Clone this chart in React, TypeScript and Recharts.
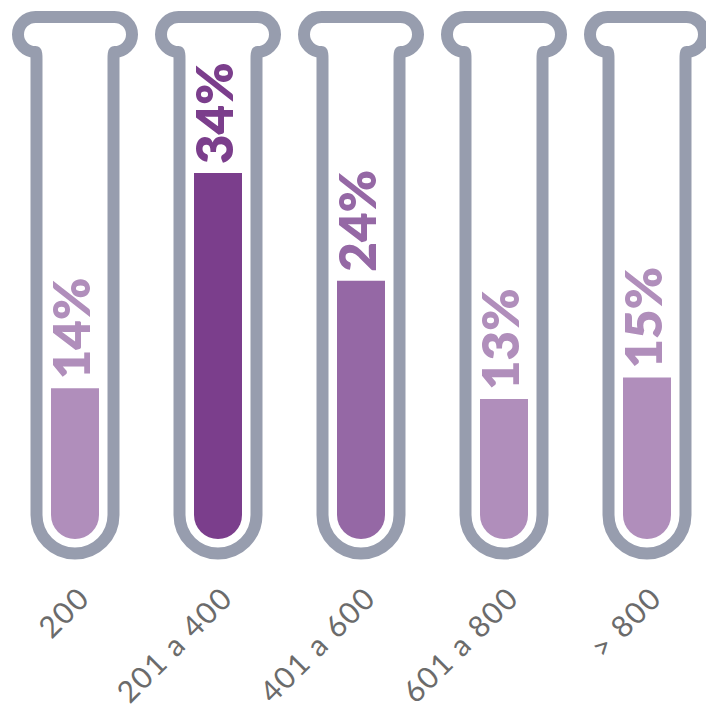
import React from "react";
import { BarChart, Bar, XAxis, YAxis, Cell, LabelList } from "recharts";

const categories = ["200", "201 a 400", "401 a 600", "601 a 800", "> 800"];
const shares = [14, 34, 24, 13, 15];
const fills = ["#b08ebb", "#7b3e8c", "#9568a5", "#b08ebb", "#b08ebb"];

const data = categories.map((name, i) => ({ name, value: shares[i] }));

const TUBE = "#979dae";

// tube outline drawn around each bar slot (lip on top, round bottom)
function Tube(props: any) {
  const { x, y, width, height } = props;
  const c = x + width / 2;
  const hw = 38.5;
  const r = 17.5;
  const lw = 57;
  const base = y + height - 24;
  const y0 = y;
  const d = [
    `M${c - hw},${base}`,
    `L${c - hw},${y0 + 2 * r + 7}`,
    `Q${c - hw},${y0 + 2 * r} ${c - lw + r},${y0 + 2 * r}`,
    `A${r},${r} 0 0 1 ${c - lw + r},${y0}`,
    `L${c + lw - r},${y0}`,
    `A${r},${r} 0 0 1 ${c + lw - r},${y0 + 2 * r}`,
    `Q${c + hw},${y0 + 2 * r} ${c + hw},${y0 + 2 * r + 7}`,
    `L${c + hw},${base}`,
    `A${hw},${hw} 0 0 1 ${c - hw},${base}`,
    "Z",
  ].join(" ");
  return <path d={d} fill="#fff" stroke={TUBE} strokeWidth={12} strokeLinejoin="round" />;
}

function PctLabel(props: any) {
  const { x, y, width, value, index } = props;
  const tx = x + width / 2 + 15;
  const ty = y - 9;
  return (
    <text
      x={tx}
      y={ty}
      transform={`rotate(-90, ${tx}, ${ty})`}
      fill={fills[index]}
      fontFamily="Lato, sans-serif"
      fontWeight={800}
      fontSize={51}
      textAnchor="start"
    >
      {value}%
    </text>
  );
}

function Tick(props: any) {
  const { x, y, payload } = props;
  const tx = x + 17;
  const ty = y + 61;
  return (
    <text
      x={tx}
      y={ty}
      transform={`rotate(-45, ${tx}, ${ty})`}
      fill="#6b6b6b"
      fontFamily="Lato, sans-serif"
      fontWeight={400}
      fontSize={30}
      letterSpacing={1.5}
      textAnchor="end"
    >
      {payload.value}
    </text>
  );
}

export default function App() {
  return (
    <div
      style={{
        position: "absolute",
        top: 0,
        left: 0,
        width: 706,
        height: 704,
        overflow: "hidden",
        background: "#fff",
      }}
    >
      <BarChart
        width={722}
        height={704}
        data={data}
        margin={{ top: 17, right: 4, bottom: 135, left: 3 }}
      >
        <XAxis
          dataKey="name"
          height={30}
          axisLine={false}
          tickLine={false}
          tickSize={0}
          tickMargin={0}
          interval={0}
          tick={<Tick />}
        />
        <YAxis hide domain={[0, 48.5]} />
        <Bar
          dataKey="value"
          barSize={48}
          radius={[0, 0, 24, 24]}
          background={<Tube />}
          isAnimationActive={false}
        >
          {data.map((d, i) => (
            <Cell key={d.name} fill={fills[i]} />
          ))}
          <LabelList dataKey="value" content={<PctLabel />} />
        </Bar>
      </BarChart>
    </div>
  );
}
